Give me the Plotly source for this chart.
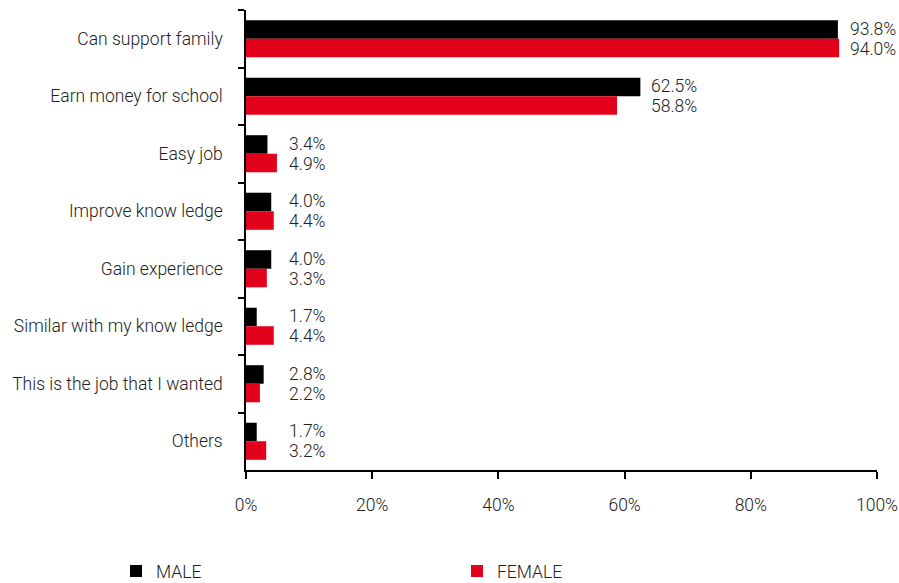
import plotly.graph_objects as go

categories = ["Can support family", "Earn money for school", "Easy job", "Improve know ledge",
              "Gain experience", "Similar with my know ledge", "This is the job that I wanted", "Others"]
male = [93.8, 62.5, 3.4, 4.0, 4.0, 1.7, 2.8, 1.7]
female = [94.0, 58.8, 4.9, 4.4, 3.3, 4.4, 2.2, 3.2]
x_ticks = [0, 20, 40, 60, 80, 100]

FONT = "Roboto, Arial, sans-serif"
TXT = "#222222"
FS = 17.5
FW = 300

fig = go.Figure()
fig.add_trace(go.Bar(y=categories, x=male, name="MALE", orientation="h",
                     marker=dict(color="#000000", line=dict(width=0))))
fig.add_trace(go.Bar(y=categories, x=female, name="FEMALE", orientation="h",
                     marker=dict(color="#E2001A", line=dict(width=0))))

annotations = []
for c, m, f in zip(categories, male, female):
    xpos = max(m, f, 5.0)
    annotations.append(dict(x=xpos, y=c, text=f"{m:.1f}%", showarrow=False, xanchor="left",
                            yanchor="middle", xshift=9, yshift=10,
                            font=dict(family=FONT, size=FS, color=TXT, weight=FW)))
    annotations.append(dict(x=xpos, y=c, text=f"{f:.1f}%", showarrow=False, xanchor="left",
                            yanchor="middle", xshift=9, yshift=-10,
                            font=dict(family=FONT, size=FS, color=TXT, weight=FW)))

fig.update_layout(
    width=899, height=583,
    margin=dict(l=246, r=22, t=10, b=113, autoexpand=False),
    plot_bgcolor="white", paper_bgcolor="white",
    barmode="group", bargap=0.355, bargroupgap=0,
    font=dict(family=FONT, size=FS, color=TXT, weight=FW),
    annotations=annotations,
    showlegend=True,
    legend=dict(orientation="h", x=-0.206, xanchor="left", y=-0.22, yanchor="middle",
                entrywidth=296, entrywidthmode="pixels", traceorder="normal",
                font=dict(family=FONT, size=FS, color=TXT, weight=FW)),
    xaxis=dict(range=[0, 100], tickvals=x_ticks, ticktext=[f"{v}%" for v in x_ticks],
               showgrid=False, zeroline=False, showline=True, linecolor="#000000", linewidth=1.5,
               ticks="outside", ticklen=7, tickcolor="#000000", tickwidth=1.5,
               ticklabelstandoff=11, fixedrange=True, automargin=False),
    yaxis=dict(autorange="reversed", showgrid=False, zeroline=False, showline=True,
               linecolor="#000000", linewidth=1.5, ticks="outside", ticklen=6,
               tickcolor="#000000", tickwidth=1.5, tickson="boundaries",
               ticklabelstandoff=18, fixedrange=True, automargin=False),
)

fig.write_html("out.html", config={"displayModeBar": False},
               post_script="document.body.style.margin='0';document.body.style.overflow='hidden';")
